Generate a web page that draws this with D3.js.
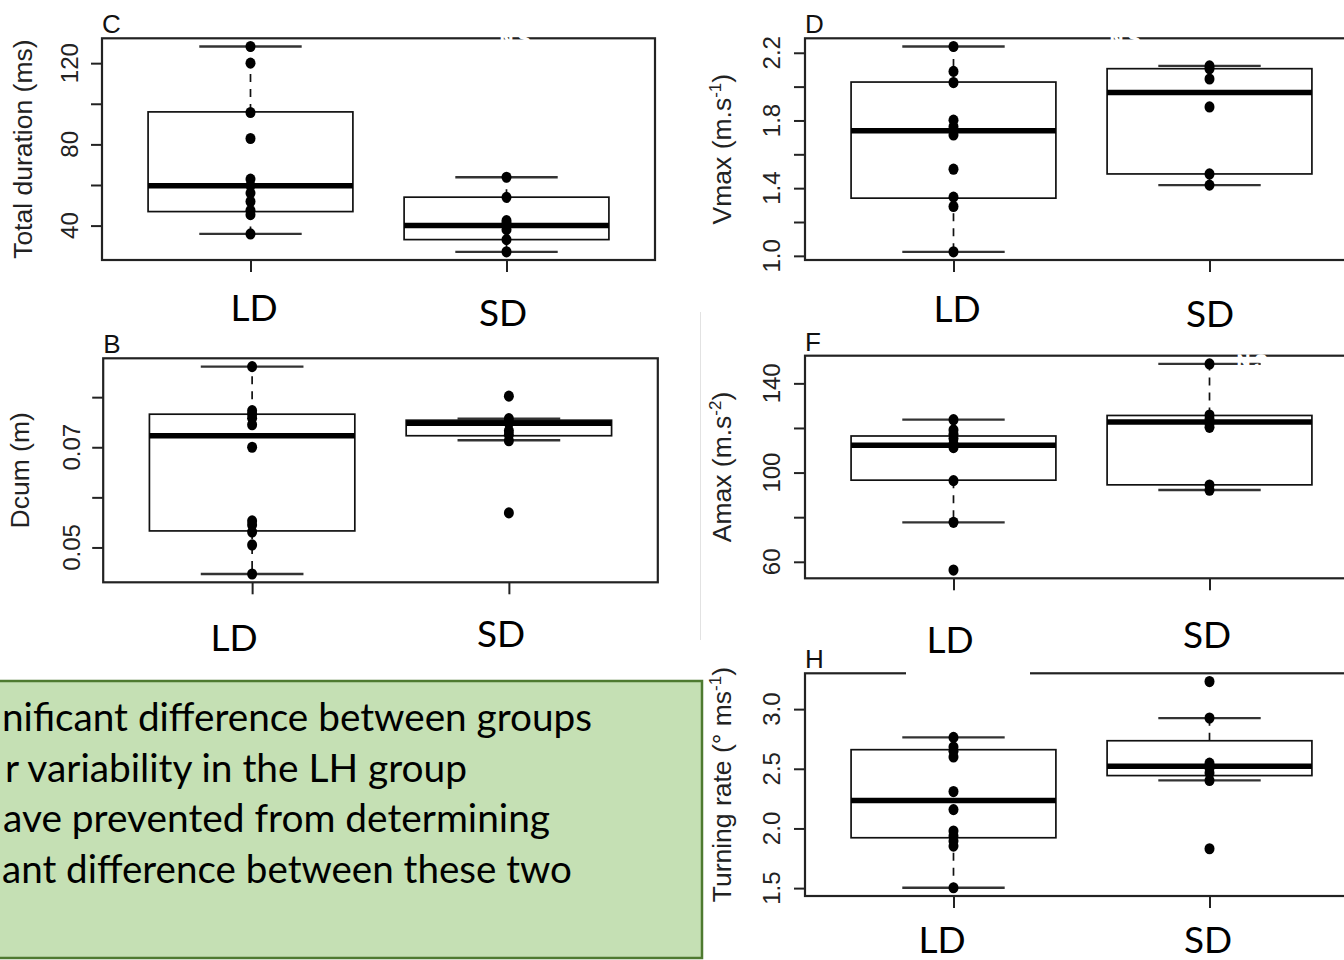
<!DOCTYPE html>
<html>
<head>
<meta charset="utf-8">
<script src="https://cdn.jsdelivr.net/npm/d3@7"></script>
<style>
  body { margin: 0; background: #fff; }
  svg { display: block; }
</style>
</head>
<body>
<svg width="1344" height="960"></svg>
<script>
// groups on every x axis
var groups = ["LD", "SD"];

// C - total duration (ms)
var durationLD = [128.2, 120, 95.7, 82.9, 62.9, 59.8, 56.0, 51.9, 47.5, 45.4, 35.9];
var durationSD = [63.8, 53.9, 42.4, 41.0, 38.0, 33.1, 27.1];
var durationBoxLD = [35.9, 46.9, 59.6, 96.0, 128.2];   // low whisker, q1, median, q3, high whisker
var durationBoxSD = [27.1, 33.1, 40.0, 54.0, 63.8];
var durationTicks = [40, 60, 80, 100, 120];
var durationLabels = [40, 80, 120];

// D - Vmax
var vmaxLD = [2.237, 2.09, 2.024, 1.802, 1.763, 1.737, 1.714, 1.512, 1.347, 1.292, 1.024];
var vmaxSD = [2.122, 2.106, 2.045, 1.88, 1.484, 1.418];
var vmaxBoxLD = [1.024, 1.341, 1.739, 2.027, 2.237];
var vmaxBoxSD = [1.418, 1.484, 1.965, 2.106, 2.122];
var vmaxTicks = [1.0, 1.2, 1.4, 1.6, 1.8, 2.0, 2.2];
var vmaxLabels = [1.0, 1.4, 1.8, 2.2];

// B - Dcum (m)
var dcumLD = [0.0861, 0.0773, 0.0766, 0.0758, 0.0745, 0.0700, 0.0553, 0.0545, 0.0531, 0.0505, 0.0447];
var dcumSD = [0.0802, 0.0757, 0.0748, 0.0733, 0.0725, 0.0713, 0.0569];
var dcumBoxLD = [0.0447, 0.0533, 0.0723, 0.0766, 0.0861];
var dcumBoxSD = [0.0714, 0.0723, 0.0748, 0.0754, 0.0757];
var dcumTicks = [0.05, 0.06, 0.07, 0.08];
var dcumLabels = [0.05, 0.07];

// F - Amax
var amaxLD = [123.7, 119.1, 117.2, 115.3, 112.8, 111.2, 96.4, 77.7, 56.3];
var amaxSD = [148.7, 125.8, 124.0, 122.1, 120.3, 94.4, 92.1];
var amaxBoxLD = [77.7, 96.6, 112.2, 116.4, 123.7];
var amaxBoxSD = [92.2, 94.5, 122.7, 125.6, 148.7];
var amaxTicks = [60, 80, 100, 120, 140];
var amaxLabels = [60, 100, 140];

// H - turning rate
var turnLD = [2.763, 2.682, 2.646, 2.599, 2.309, 2.158, 1.978, 1.936, 1.894, 1.852, 1.503];
var turnSD = [3.231, 2.925, 2.547, 2.505, 2.464, 2.402, 1.83];
var turnBoxLD = [1.503, 1.922, 2.234, 2.66, 2.763];
var turnBoxSD = [2.402, 2.443, 2.522, 2.735, 2.925];
var turnTicks = [1.5, 2.0, 2.5, 3.0];
var turnLabels = [1.5, 2.0, 2.5, 3.0];

// text of the green note (its left part is cut off in the original)
var noteLines = [
  "nificant difference between groups",
  "r variability in the LH group",
  "ave prevented from determining",
  "ant difference between these two"
];
var noteSpan = [[2, 590], [5, 462], [3, 547], [2, 570]];   // visible start and width of each line

var svg = d3.select("svg");
svg.append("rect").attr("width", 1344).attr("height", 960).attr("fill", "#fff");

var panels = [
  { letter: "C", title: [["Total duration (ms)"]], pts: [durationLD, durationSD], box: [durationBoxLD, durationBoxSD],
    ticks: durationTicks, labels: durationLabels, fmt: d3.format("d"),
    x0: 102, x1: 655, y0: 38.3, y1: 260, labX: 78, titleX: 32, letterY: 33,
    cat: [[254, 321], [503, 326]], ns: [515, 45] },
  { letter: "D", title: [["Vmax (m.s"], ["-1", true], [")"]], pts: [vmaxLD, vmaxSD], box: [vmaxBoxLD, vmaxBoxSD],
    ticks: vmaxTicks, labels: vmaxLabels, fmt: d3.format(".1f"),
    x0: 805, x1: 1358, y0: 38.3, y1: 260, labX: 780, titleX: 731, letterY: 33,
    cat: [[957, 322], [1210, 327]], ns: [1125, 45] },
  { letter: "B", title: [["Dcum (m)"]], pts: [dcumLD, dcumSD], box: [dcumBoxLD, dcumBoxSD],
    ticks: dcumTicks, labels: dcumLabels, fmt: d3.format(".2f"),
    x0: 103.2, x1: 657.8, y0: 358.3, y1: 582.3, labX: 80, titleX: 29, letterY: 353,
    cat: [[234, 651], [501, 647]] },
  { letter: "F", title: [["Amax (m.s"], ["-2", true], [")"]], pts: [amaxLD, amaxSD], box: [amaxBoxLD, amaxBoxSD],
    ticks: amaxTicks, labels: amaxLabels, fmt: d3.format("d"),
    x0: 805, x1: 1358, y0: 355.7, y1: 578.3, labX: 780, titleX: 731, letterY: 351,
    cat: [[950, 653], [1207, 648]], ns: [1252, 368] },
  { letter: "H", title: [["Turning rate (\u00b0 ms"], ["-1", true], [")"]], pts: [turnLD, turnSD], box: [turnBoxLD, turnBoxSD],
    ticks: turnTicks, labels: turnLabels, fmt: d3.format(".1f"),
    x0: 805, x1: 1358, y0: 673.3, y1: 896, labX: 780, titleX: 731, letterY: 668,
    cat: [[942, 953], [1208, 953]], gap: [906, 1030] }
];

// faint edge of a pasted image
svg.append("line").attr("x1", 700.5).attr("x2", 700.5).attr("y1", 312).attr("y2", 640)
  .attr("stroke", "#e2e2e2").attr("stroke-width", 1);

// green note box
var note = svg.append("g");
note.append("rect").attr("x", -5).attr("y", 681).attr("width", 707).attr("height", 277)
  .attr("fill", "#c5e0b4").attr("stroke", "#4e7a30").attr("stroke-width", 2.5);
note.selectAll("text").data(noteLines).enter().append("text")
  .attr("x", function(d, i) { return noteSpan[i][0]; })
  .attr("y", function(d, i) { return 731 + i * 50.5; })
  .attr("font-family", "Lato, 'Open Sans', sans-serif")
  .attr("font-size", 38)
  .attr("textLength", function(d, i) { return noteSpan[i][1]; })
  .attr("lengthAdjust", "spacingAndGlyphs")
  .attr("fill", "#000")
  .text(function(d) { return d; });

panels.forEach(function(p) {
  var g = svg.append("g");
  var all = p.pts[0].concat(p.pts[1]);
  var ext = d3.extent(all), pad = (ext[1] - ext[0]) * 0.04;

  var x = d3.scaleLinear().domain([0.42, 2.58]).range([p.x0, p.x1]);
  var y = d3.scaleLinear().domain([ext[0] - pad, ext[1] + pad]).range([p.y1, p.y0]);

  // y axis: ticks on the frame edge, labels rotated like R
  var yAxis = d3.axisLeft(y).tickValues(p.ticks).tickSize(11).tickFormat("");
  var ya = g.append("g").attr("transform", "translate(" + p.x0 + ",0)").call(yAxis);
  ya.select(".domain").remove();
  ya.selectAll(".tick line").attr("stroke", "#222").attr("stroke-width", 2);

  g.selectAll(".ylab").data(p.labels).enter().append("text")
    .attr("transform", function(d) { return "translate(" + p.labX + "," + y(d) + ") rotate(-90)"; })
    .attr("text-anchor", "middle")
    .attr("font-family", "'Liberation Sans', Arial, sans-serif")
    .attr("font-size", 24)
    .attr("fill", "#222")
    .text(function(d) { return p.fmt(d); });

  // x axis ticks only
  var xAxis = d3.axisBottom(x).tickValues([1, 2]).tickSize(12).tickFormat("");
  var xa = g.append("g").attr("transform", "translate(0," + p.y1 + ")").call(xAxis);
  xa.select(".domain").remove();
  xa.selectAll(".tick line").attr("stroke", "#222").attr("stroke-width", 2);

  // y title
  var t = g.append("text")
    .attr("transform", "translate(" + p.titleX + "," + ((p.y0 + p.y1) / 2) + ") rotate(-90)")
    .attr("text-anchor", "middle")
    .attr("font-family", "'Liberation Sans', Arial, sans-serif")
    .attr("font-size", 26.5)
    .attr("fill", "#222");
  p.title.forEach(function(part) {
    var s = t.append("tspan").text(part[0]);
    if (part[1]) s.attr("font-size", 17).attr("dy", -10);
    else if (part[0] === ")") s.attr("dy", 10);
  });

  // boxes
  p.box.forEach(function(b, i) {
    var c = i + 1;
    var bg = g.append("g");
    bg.append("line").attr("x1", x(c)).attr("x2", x(c)).attr("y1", y(b[3])).attr("y2", y(b[4]))
      .attr("stroke", "#111").attr("stroke-width", 1.7).attr("stroke-dasharray", "8,7");
    bg.append("line").attr("x1", x(c)).attr("x2", x(c)).attr("y1", y(b[1])).attr("y2", y(b[0]))
      .attr("stroke", "#111").attr("stroke-width", 1.7).attr("stroke-dasharray", "8,7");
    [b[0], b[4]].forEach(function(v) {
      bg.append("line").attr("x1", x(c - 0.2)).attr("x2", x(c + 0.2)).attr("y1", y(v)).attr("y2", y(v))
        .attr("stroke", "#333").attr("stroke-width", 2.3);
    });
    bg.append("rect").attr("x", x(c - 0.4)).attr("width", x(c + 0.4) - x(c - 0.4))
      .attr("y", y(b[3])).attr("height", y(b[1]) - y(b[3]))
      .attr("fill", "none").attr("stroke", "#111").attr("stroke-width", 1.7);
    bg.append("line").attr("x1", x(c - 0.4)).attr("x2", x(c + 0.4)).attr("y1", y(b[2])).attr("y2", y(b[2]))
      .attr("stroke", "#000").attr("stroke-width", 5.5);
  });

  // points
  p.pts.forEach(function(arr, i) {
    g.selectAll(".pt" + i).data(arr).enter().append("ellipse")
      .attr("cx", x(i + 1)).attr("cy", function(d) { return y(d); })
      .attr("rx", 5).attr("ry", 5.6).attr("fill", "#000");
  });

  // plot frame
  g.append("rect").attr("x", p.x0).attr("y", p.y0).attr("width", p.x1 - p.x0).attr("height", p.y1 - p.y0)
    .attr("fill", "none").attr("stroke", "#222").attr("stroke-width", 2.2);

  // panel letter
  g.append("text").attr("x", p.x0).attr("y", p.letterY)
    .attr("font-family", "'Liberation Sans', Arial, sans-serif").attr("font-size", 26)
    .attr("fill", "#111").text(p.letter);

  // white "NS" text lying over the frame
  if (p.ns) {
    g.append("text").attr("x", p.ns[0]).attr("y", p.ns[1]).attr("text-anchor", "middle")
      .attr("font-family", "'Liberation Sans', Arial, sans-serif").attr("font-size", 18)
      .attr("fill", "#fff").attr("stroke", "#fff").attr("stroke-width", 1.5).text("N.S");
  }
  if (p.gap) {
    g.append("rect").attr("x", p.gap[0]).attr("y", p.y0 - 6).attr("width", p.gap[1] - p.gap[0]).attr("height", 9)
      .attr("fill", "#fff");
  }

  // big group labels
  g.selectAll(".cat").data(groups).enter().append("text")
    .attr("x", function(d, i) { return p.cat[i][0]; })
    .attr("y", function(d, i) { return p.cat[i][1]; })
    .attr("text-anchor", "middle")
    .attr("font-family", "Lato, 'Open Sans', sans-serif")
    .attr("font-size", 37)
    .attr("fill", "#000")
    .text(function(d) { return d; });
});
</script>
</body>
</html>
